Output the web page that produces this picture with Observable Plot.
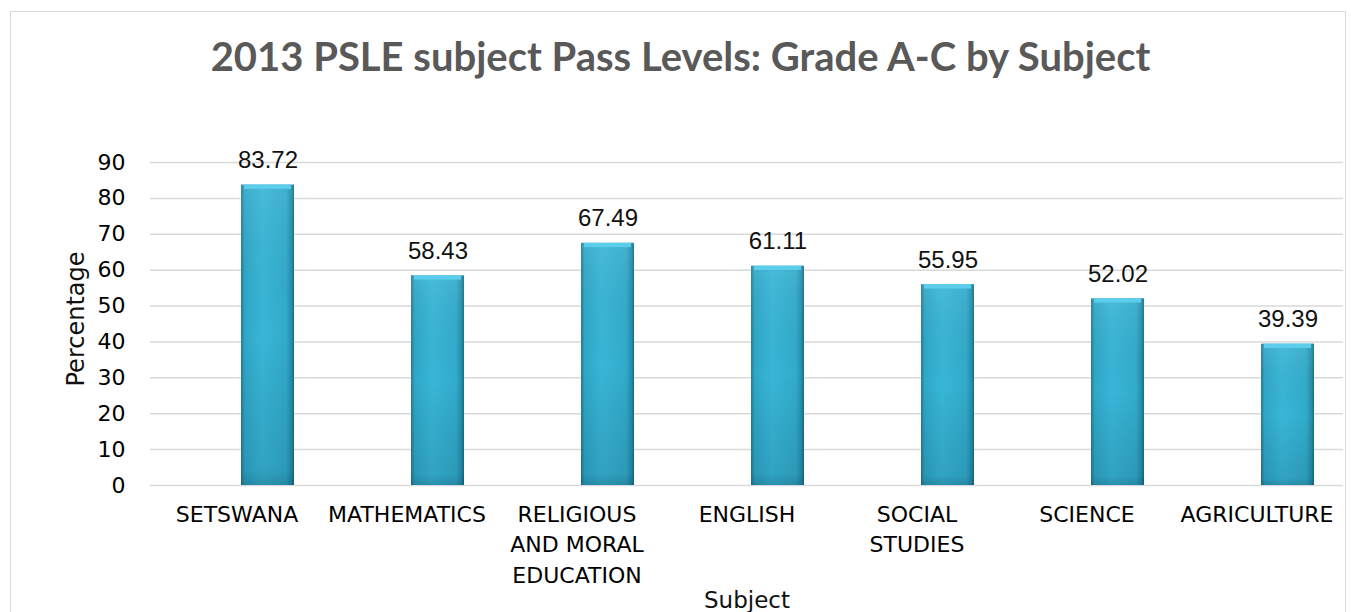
<!DOCTYPE html>
<html>
<head>
<meta charset="utf-8">
<script src="https://cdn.jsdelivr.net/npm/d3@7"></script>
<script src="https://cdn.jsdelivr.net/npm/@observablehq/plot@0.6"></script>
<style>
  html, body { margin: 0; padding: 0; background: #fff; }
  body { width: 1351px; height: 612px; position: relative; overflow: hidden; }
  #frame { position: absolute; left: 10px; top: 11px; width: 1336px; height: 640px; border: 1px solid #d9d9d9; box-sizing: border-box; }
  #title { position: absolute; left: 0; width: 1351px; top: 30px; text-align: center;
           font-family: Lato, "Open Sans", sans-serif; font-weight: bold; font-size: 40px; color: #595959; line-height: 52px; padding-left: 10px; box-sizing: border-box; }
  #chart { position: absolute; left: 0; top: 100px; }
</style>
</head>
<body>
<div id="frame"></div>
<div id="title">2013 PSLE subject Pass Levels: Grade A-C by Subject</div>
<div id="chart"></div>
<script>
const subjects = ["SETSWANA", "MATHEMATICS", "RELIGIOUS AND MORAL EDUCATION", "ENGLISH", "SOCIAL STUDIES", "SCIENCE", "AGRICULTURE"];
const tickLabels = ["SETSWANA", "MATHEMATICS", "RELIGIOUS\nAND MORAL\nEDUCATION", "ENGLISH", "SOCIAL\nSTUDIES", "SCIENCE", "AGRICULTURE"];
const percentages = [83.72, 58.43, 67.49, 61.11, 55.95, 52.02, 39.39];
const yTicks = [0, 10, 20, 30, 40, 50, 60, 70, 80, 90];

const data = subjects.map((s, i) => ({subject: s, value: percentages[i]}));
const labelOf = new Map(subjects.map((s, i) => [s, tickLabels[i]]));

const defs = () => {
  const svg = d3.create("svg:g");
  const d = svg.append("defs");
  const h = d.append("linearGradient").attr("id", "barH").attr("x1", 0).attr("x2", 1).attr("y1", 0).attr("y2", 0);
  [[0, "#1f7d95"], [0.07, "#2fa7c7"], [0.4, "#38b6d7"], [0.85, "#32abcb"], [0.95, "#2590ad"], [1, "#1b6b80"]]
    .forEach(([o, c]) => h.append("stop").attr("offset", o).attr("stop-color", c));
  const v = d.append("linearGradient").attr("id", "barV").attr("x1", 0).attr("x2", 0).attr("y1", 0).attr("y2", 1);
  [[0, "rgba(255,255,255,0.08)"], [0.5, "rgba(0,0,0,0)"], [0.95, "rgba(0,30,50,0.12)"], [1, "rgba(0,30,50,0.25)"]]
    .forEach(([o, c]) => v.append("stop").attr("offset", o).attr("stop-color", c));
  return svg.node();
};

const barShift = 31;

const chart = Plot.plot({
  width: 1351,
  height: 512,
  marginLeft: 150,
  marginRight: 8,
  marginTop: 62,
  marginBottom: 127,
  style: {fontFamily: "'DejaVu Sans', sans-serif", fontSize: "22px", color: "#000", background: "transparent", overflow: "visible"},
  x: {domain: subjects, paddingInner: 0.69, paddingOuter: 0.345, label: null},
  y: {domain: [0, 90], ticks: yTicks, label: null},
  marks: [
    defs,
    Plot.gridY(yTicks, {stroke: "#d9d9d9", strokeOpacity: 1, strokeWidth: 1.5}),
    Plot.axisY(yTicks, {tickSize: 0, tickPadding: 25, fontSize: 22, label: null}),
    Plot.axisX({tickSize: 0, tickPadding: 15, fontSize: 22, lineHeight: 1.38, tickFormat: s => labelOf.get(s), label: null}),
    Plot.barY(data, {x: "subject", y: "value", fill: "url(#barH)", dx: barShift}),
    Plot.barY(data, {x: "subject", y: "value", fill: "url(#barV)", dx: barShift}),
    Plot.barY(data, {x: "subject", y1: d => d.value - 1.2, y2: "value", fill: "#5ccdea", insetLeft: 3, insetRight: 3, dx: barShift}),
    Plot.text(data, {x: "subject", y: "value", text: d => d.value.toFixed(2), dy: -17, dx: barShift, lineAnchor: "bottom",
      fontFamily: "'Liberation Sans', Arial, sans-serif", fontSize: 24, fill: "#111"}),
    Plot.text(["Subject"], {frameAnchor: "bottom", dy: 122, lineAnchor: "bottom", fontSize: 23, fill: "#111"}),
    Plot.text(["Percentage"], {frameAnchor: "left", textAnchor: "middle", dx: -74, dy: -5, rotate: -90, fontSize: 24, fill: "#111"})
  ]
});
document.getElementById("chart").appendChild(chart);
</script>
</body>
</html>
